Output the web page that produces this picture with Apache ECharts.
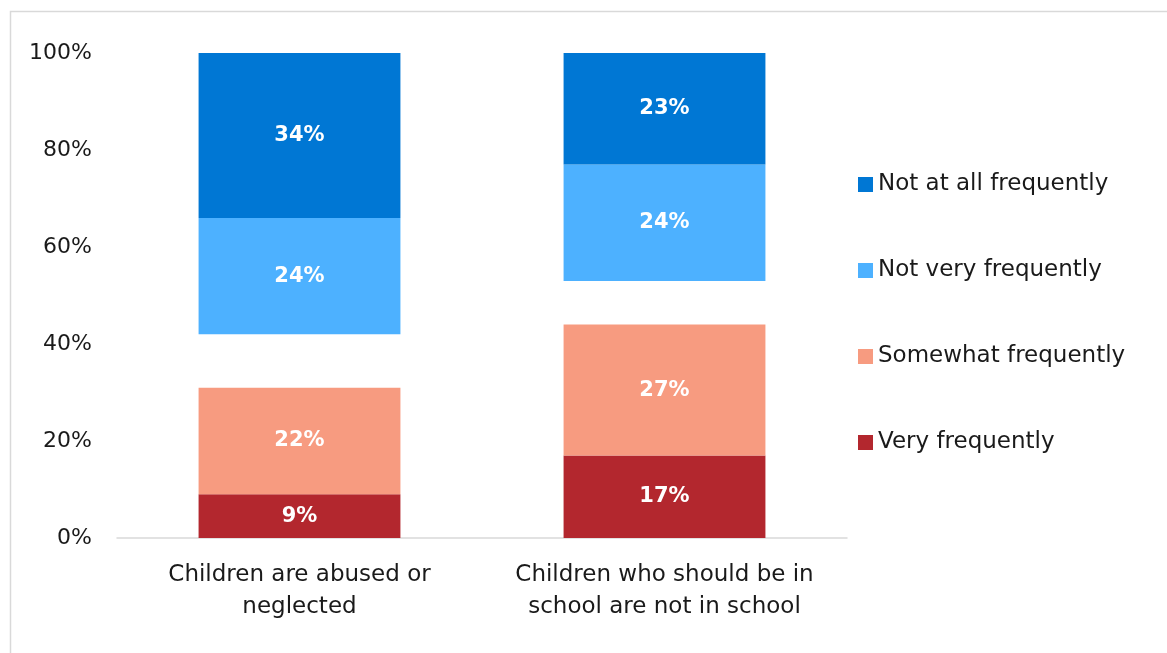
<!DOCTYPE html>
<html>
<head>
<meta charset="utf-8">
<style>
  html, body { margin: 0; padding: 0; background: #ffffff; }
  #chart { width: 1167px; height: 653px; }
</style>
<script src="https://cdn.jsdelivr.net/npm/echarts@6/dist/echarts.min.js"></script>
</head>
<body>
<div id="chart"></div>
<script>
// Survey categories (x axis)
const categories = [
  'Children are abused or\nneglected',
  'Children who should be in\nschool are not in school'
];

// Response shares in percent, stacked bottom to top
const veryFrequently = [9, 17];
const somewhatFrequently = [22, 27];
const remainder = [11, 9];          // unanswered share, left blank between the two groups
const notVeryFrequently = [24, 24];
const notAtAllFrequently = [34, 23];

// Y axis ticks
const yTicks = [0, 20, 40, 60, 80, 100];

const FONT = '"DejaVu Sans", "Noto Sans", sans-serif';
const COLORS = {
  notAtAll: '#0077D4',
  notVery: '#4DB1FF',
  somewhat: '#F79B80',
  very: '#B3272E'
};

const labelStyle = {
  show: true,
  position: 'inside',
  formatter: '{c}%',
  color: '#ffffff',
  fontFamily: FONT,
  fontWeight: 'bold',
  fontSize: 21
};

function barSeries(name, data, color) {
  return {
    name: name,
    type: 'bar',
    stack: 'total',
    data: data,
    barCategoryGap: '44.7%',
    itemStyle: { color: color },
    label: labelStyle,
    emphasis: { disabled: true }
  };
}

const chart = echarts.init(document.getElementById('chart'), null, { renderer: 'canvas' });

chart.setOption({
  animation: false,
  backgroundColor: '#ffffff',
  graphic: [{
    type: 'rect',
    shape: { x: 10.5, y: 11.5, width: 1200, height: 700 },
    style: { fill: 'none', stroke: '#D9D9D9', lineWidth: 1.5 },
    silent: true
  }],
  grid: { left: 117, right: 320, top: 53, bottom: 115 },
  legend: {
    orient: 'vertical',
    left: 853,
    top: 168,
    itemWidth: 15,
    itemHeight: 15,
    itemGap: 63,
    icon: 'rect',
    data: ['Not at all frequently', 'Not very frequently', 'Somewhat frequently', 'Very frequently'],
    textStyle: { fontFamily: FONT, fontSize: 23, color: '#1a1a1a' }
  },
  xAxis: {
    type: 'category',
    data: categories,
    axisLine: { show: true, lineStyle: { color: '#D9D9D9', width: 1.5 } },
    axisTick: { show: false },
    axisLabel: {
      interval: 0,
      hideOverlap: false,
      fontFamily: FONT,
      fontSize: 23,
      lineHeight: 32,
      color: '#1a1a1a',
      margin: 21,
      align: 'center'
    }
  },
  yAxis: {
    type: 'value',
    min: yTicks[0],
    max: yTicks[yTicks.length - 1],
    interval: yTicks[1] - yTicks[0],
    axisLine: { show: false },
    axisTick: { show: false },
    splitLine: { show: false },
    axisLabel: {
      formatter: '{value}%',
      fontFamily: FONT,
      fontSize: 22,
      color: '#1a1a1a',
      margin: 25
    }
  },
  series: [
    barSeries('Very frequently', veryFrequently, COLORS.very),
    barSeries('Somewhat frequently', somewhatFrequently, COLORS.somewhat),
    {
      name: 'remainder',
      type: 'bar',
      stack: 'total',
      data: remainder,
      itemStyle: { color: 'rgba(0,0,0,0)' },
      label: { show: false },
      silent: true,
      emphasis: { disabled: true }
    },
    barSeries('Not very frequently', notVeryFrequently, COLORS.notVery),
    barSeries('Not at all frequently', notAtAllFrequently, COLORS.notAtAll)
  ]
});
</script>
</body>
</html>
